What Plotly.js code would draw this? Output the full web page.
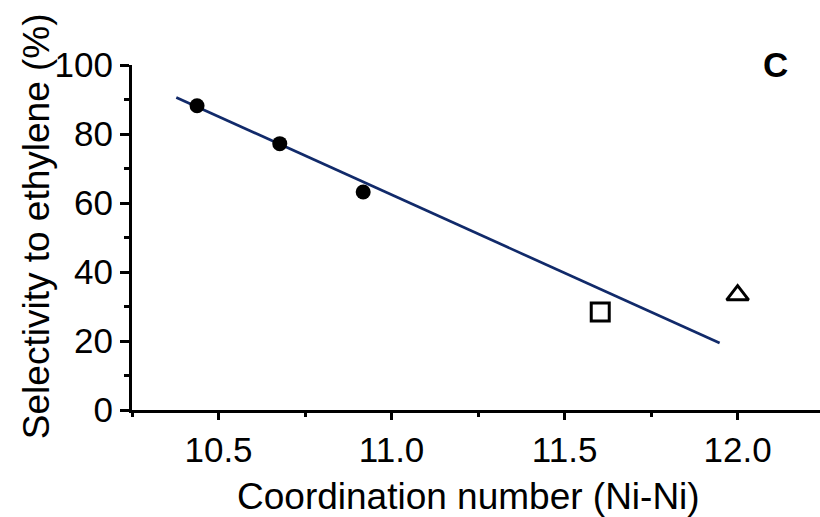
<!DOCTYPE html>
<html>
<head>
<meta charset="utf-8">
<script src="https://cdn.plot.ly/plotly-3.0.1.min.js"></script>
<style>html,body{margin:0;padding:0;background:#fff;}#chart{width:820px;height:517px;}</style>
</head>
<body>
<div id="chart"></div>
<script>
// Data
const filledX = [10.438, 10.677, 10.918];
const filledY = [88.2, 77.2, 63.2];
const squareX = [11.603];
const squareY = [28.4];
const triangleX = [12.0];
const triangleY = [33.3];
const fitX = [10.378, 11.948];
const fitY = [90.6, 19.4];
const xTickVals = [10.5, 11.0, 11.5, 12.0];
const xTickText = ['10.5', '11.0', '11.5', '12.0'];
const yTickVals = [0, 20, 40, 60, 80, 100];
const panelLabel = 'C';
const xTitle = 'Coordination number (Ni-Ni)';
const yTitle = 'Selectivity to ethylene (%)';

const FONT = 'Liberation Sans, Arial, Helvetica, sans-serif';

const traces = [
  {x: fitX, y: fitY, mode: 'lines', type: 'scatter',
   line: {color: '#112a6a', width: 2.7}, hoverinfo: 'skip', showlegend: false},
  {x: filledX, y: filledY, mode: 'markers', type: 'scatter',
   marker: {symbol: 'circle', size: 15, color: '#000'}, showlegend: false},
  {x: squareX, y: squareY, mode: 'markers', type: 'scatter',
   marker: {symbol: 'square-open', size: 18, color: '#000', line: {width: 3, color: '#000'}}, showlegend: false},
  {x: triangleX, y: triangleY, mode: 'markers', type: 'scatter',
   marker: {symbol: 'triangle-up-open', size: 19, color: '#000', line: {width: 3, color: '#000'}}, showlegend: false}
];

const layout = {
  width: 820, height: 517,
  margin: {l: 132, r: 0, t: 65, b: 107, pad: 0},
  paper_bgcolor: '#fff', plot_bgcolor: '#fff',
  font: {family: FONT, color: '#000'},
  xaxis: {
    range: [10.25, 12.238],
    tickvals: xTickVals, ticktext: xTickText,
    ticks: 'outside', ticklen: 7, tickwidth: 3, tickcolor: '#000',
    minor: {dtick: 0.25, tick0: 10.25, ticks: 'outside', ticklen: 4, tickwidth: 3, tickcolor: '#000'},
    showline: true, linewidth: 3, linecolor: '#000',
    showgrid: false, zeroline: false,
    tickfont: {family: FONT, size: 35, color: '#000'},
    automargin: false, fixedrange: true
  },
  yaxis: {
    range: [0, 100],
    tickvals: yTickVals,
    ticks: 'outside', ticklen: 9, tickwidth: 3, tickcolor: '#000',
    minor: {dtick: 10, tick0: 0, ticks: 'outside', ticklen: 5, tickwidth: 3, tickcolor: '#000'},
    showline: true, linewidth: 3, linecolor: '#000',
    showgrid: false, zeroline: false,
    tickfont: {family: FONT, size: 35, color: '#000'},
    automargin: false, fixedrange: true
  },
  annotations: [
    {text: '<b>' + panelLabel + '</b>', xref: 'paper', yref: 'paper',
     x: 0.9346, y: 1.0014, xanchor: 'center', yanchor: 'middle',
     showarrow: false, font: {family: FONT, size: 35, color: '#000'}},
    {text: xTitle, xref: 'paper', yref: 'paper',
     x: 0.4884, y: -0.252, xanchor: 'center', yanchor: 'middle',
     showarrow: false, font: {family: FONT, size: 37, color: '#000'}},
    {text: yTitle, xref: 'paper', yref: 'paper', textangle: -90,
     x: -0.1395, y: 0.533, xanchor: 'center', yanchor: 'middle',
     showarrow: false, font: {family: FONT, size: 37, color: '#000'}}
  ],
  showlegend: false
};

Plotly.newPlot('chart', traces, layout, {displayModeBar: false, staticPlot: true});
</script>
</body>
</html>
